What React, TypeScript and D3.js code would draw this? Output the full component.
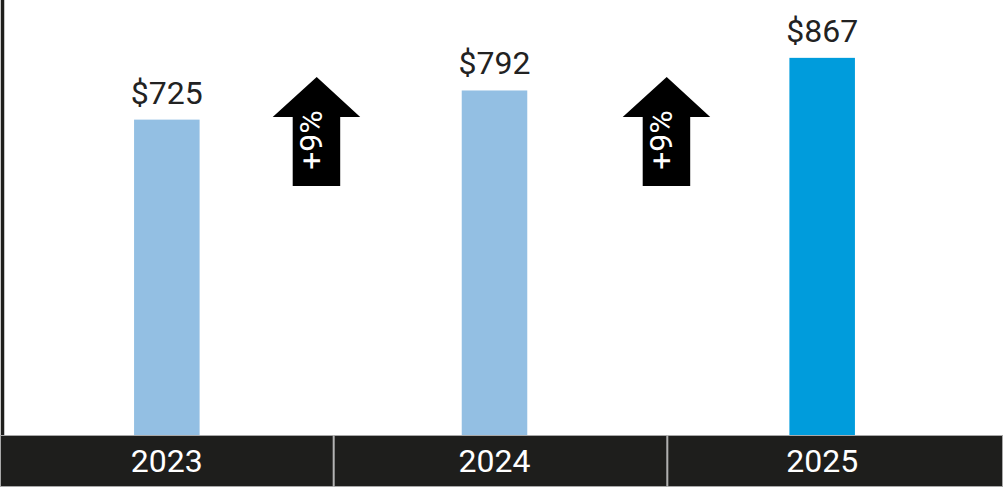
import React, { useEffect, useRef } from "react";
import * as d3 from "d3";

const years = ["2023", "2024", "2025"];
const values = [725, 792, 867];
const barColors = ["#93bfe3", "#93bfe3", "#009cdc"];
const growthLabels = ["+9%", "+9%"];
const growthPositions = [0.3167, 0.6667];

const W = 1004;
const H = 488;

export default function App() {
  const ref = useRef<SVGSVGElement | null>(null);

  useEffect(() => {
    const svg = d3.select(ref.current);
    svg.selectAll("*").remove();

    const baseline = 435;
    const y = d3.scaleLinear().domain([0, 1000]).range([baseline, 0]);
    const x = d3
      .scaleBand()
      .domain(years)
      .range([3, 986])
      .paddingInner(0.8)
      .paddingOuter(0.4);
    const cells = d3.scaleBand().domain(years).range([0, 1001]);
    const pos = d3.scaleLinear().domain([0, 1]).range([0, 1000]);

    const font = "Roboto, 'Noto Sans', sans-serif";

    // bars
    svg
      .append("g")
      .selectAll("rect")
      .data(values)
      .join("rect")
      .attr("x", (_, i) => x(years[i]) as number)
      .attr("y", (d) => y(d))
      .attr("width", x.bandwidth())
      .attr("height", (d) => baseline - y(d))
      .attr("fill", (_, i) => barColors[i]);

    // value labels
    svg
      .append("g")
      .selectAll("text")
      .data(values)
      .join("text")
      .attr("x", (_, i) => (x(years[i]) as number) + x.bandwidth() / 2)
      .attr("y", (d) => y(d) - 16)
      .attr("text-anchor", "middle")
      .style("font-family", font)
      .style("font-size", "32px")
      .attr("fill", "#222")
      .text((d) => `$${d}`);

    // left axis line
    svg
      .append("line")
      .attr("x1", 2.5)
      .attr("x2", 2.5)
      .attr("y1", 0)
      .attr("y2", baseline)
      .attr("stroke", "#1e1e1c")
      .attr("stroke-width", 3.5);

    // category band
    svg
      .append("g")
      .selectAll("rect")
      .data(years)
      .join("rect")
      .attr("x", (d) => (cells(d) as number) + 0.5)
      .attr("y", baseline + 0.5)
      .attr("width", (d, i) => cells.bandwidth() - 1 + (i === years.length - 1 ? 2 : 0))
      .attr("height", 51)
      .attr("fill", "#1e1e1c")
      .attr("stroke", "#a8a8a8")
      .attr("stroke-width", 1);

    svg
      .append("g")
      .selectAll("text")
      .data(years)
      .join("text")
      .attr("x", (d) => (x(d) as number) + x.bandwidth() / 2)
      .attr("y", 471.5)
      .attr("text-anchor", "middle")
      .style("font-family", font)
      .style("font-size", "32px")
      .attr("fill", "#fff")
      .text((d) => d);

    // growth arrows
    const arrow = (cx: number) =>
      `M${cx},77 L${cx + 43.5},117 L${cx + 23.5},117 L${cx + 23.5},186 ` +
      `L${cx - 24},186 L${cx - 24},117 L${cx - 44},117 Z`;

    const arrows = svg
      .append("g")
      .selectAll("g")
      .data(growthLabels)
      .join("g");

    arrows
      .append("path")
      .attr("d", (_, i) => arrow(pos(growthPositions[i])))
      .attr("fill", "#000");

    arrows
      .append("text")
      .attr(
        "transform",
        (_, i) => `translate(${pos(growthPositions[i]) + 5},140) rotate(-90)`
      )
      .attr("text-anchor", "middle")
      .style("font-family", font)
      .style("font-size", "32px")
      .attr("fill", "#fff")
      .text((d) => d);
  }, []);

  return (
    <svg
      ref={ref}
      width={W}
      height={H}
      style={{ position: "absolute", left: 0, top: 0, display: "block" }}
    />
  );
}
